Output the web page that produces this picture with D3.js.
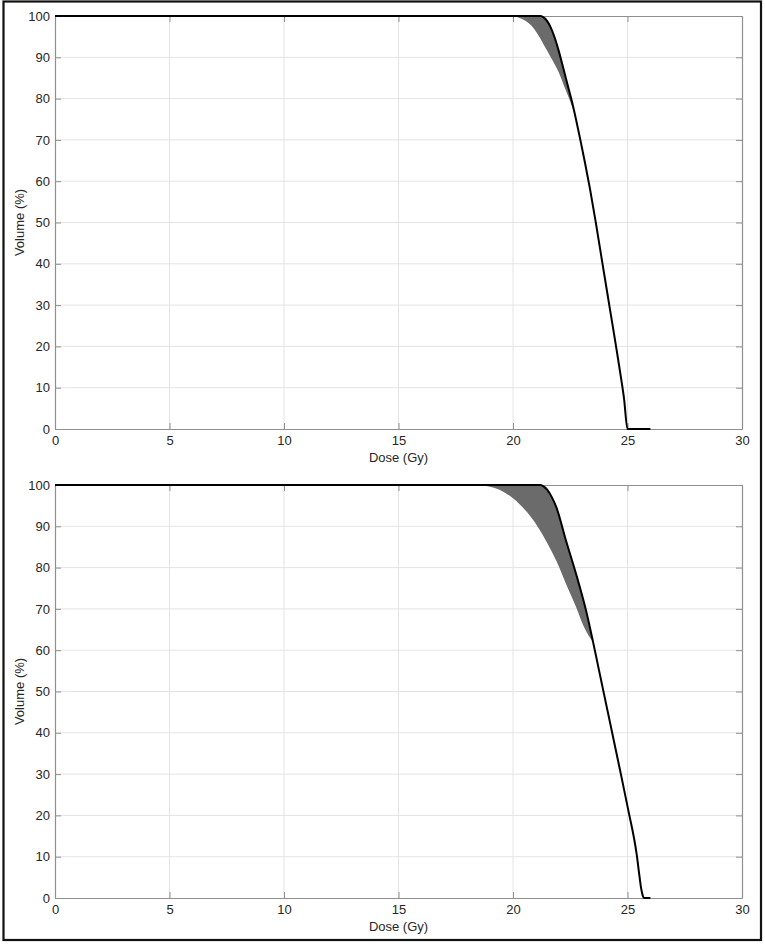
<!DOCTYPE html>
<html>
<head>
<meta charset="utf-8">
<script src="https://cdn.jsdelivr.net/npm/d3@7"></script>
<style>
  body { margin: 0; background: #fff; }
  svg { display: block; font-family: "Liberation Sans", Arial, Helvetica, sans-serif; }
</style>
</head>
<body>
<svg id="canvas" width="765" height="944"></svg>
<script>
// ticks
let doseTicks = [0, 5, 10, 15, 20, 25, 30]
let volTicks = [0, 10, 20, 30, 40, 50, 60, 70, 80, 90, 100]

// panneau du haut : courbe noire + bord inférieur de la bande grise
let topDose = [0, 21.2, 21.35, 21.5, 21.65, 21.8, 22.0, 22.2, 22.4, 22.56, 22.75, 22.93, 23.15, 23.36, 23.6, 23.9, 24.24, 24.5, 24.7, 24.85, 25.0, 26.0]
let topVol  = [100, 100, 99.6, 98.7, 97.2, 95.1, 91.5, 87.3, 83, 79.6, 75, 70.3, 64.3, 58.2, 50.5, 40.3, 28.8, 20, 13, 7.3, 0, 0]
let topLowDose = [19.9, 20.2, 20.5, 20.8, 21.1, 21.4, 21.6, 21.8, 22.0, 22.27, 22.5, 22.7]
let topLowVol  = [100, 99.7, 99, 97.7, 95.4, 92.5, 90.5, 88.5, 86.3, 82.5, 79.3, 76.2]

// panneau du bas
let botDose = [0, 21.2, 21.35, 21.5, 21.7, 21.9, 22.3, 22.8, 23.2, 23.45, 23.75, 24.0, 24.24, 24.65, 25.03, 25.4, 25.52, 25.6, 25.66, 25.72, 26.0]
let botVol  = [100, 100, 99.6, 98.8, 97, 94.5, 86.8, 77.6, 69.4, 63.2, 55.3, 48.7, 42.4, 31.6, 21.4, 10.6, 5.4, 2.2, 0.7, 0, 0]
let botLowDose = [18.4, 18.9, 19.43, 20.0, 20.6, 21.03, 21.47, 21.91, 22.34, 22.78, 23.07, 23.5]
let botLowVol  = [100, 99.7, 98.8, 96.8, 93.5, 90.3, 86.2, 81.4, 75.7, 70.1, 66, 61.9]

let canvas = d3.select('#canvas')

// cadre autour de la figure
canvas.append('rect')
      .attr('x', 3.5).attr('y', 1.5)
      .attr('width', 757.5).attr('height', 938.5)
      .attr('fill', 'none').attr('stroke', '#111').attr('stroke-width', 2.2)

let x = d3.scaleLinear().domain([0, 30]).range([55, 742])

let dessinerPanneau = (id, top, dose, vol, lowDose, lowVol) => {
   let y = d3.scaleLinear().domain([0, 100]).range([top + 413, top])
   let g = canvas.append('g')

   // grille
   g.append('g').selectAll('line').data(doseTicks.slice(1, -1)).enter().append('line')
    .attr('x1', d => x(d)).attr('x2', d => x(d))
    .attr('y1', y(0)).attr('y2', y(100))
    .attr('stroke', '#e4e4e4').attr('stroke-width', 1)
   g.append('g').selectAll('line').data(volTicks.slice(1, -1)).enter().append('line')
    .attr('x1', x(0)).attr('x2', x(30))
    .attr('y1', d => y(d)).attr('y2', d => y(d))
    .attr('stroke', '#e4e4e4').attr('stroke-width', 1)

   // axes (ticks vers l'intérieur)
   let axeBas = d3.axisBottom(x).tickValues(doseTicks).tickSizeInner(-6).tickSizeOuter(0).tickPadding(7)
   let axeHaut = d3.axisTop(x).tickValues(doseTicks).tickSizeInner(-6).tickSizeOuter(0).tickFormat('')
   let axeGauche = d3.axisLeft(y).tickValues(volTicks).tickSizeInner(-6).tickSizeOuter(0).tickPadding(5)
   let axeDroite = d3.axisRight(y).tickValues(volTicks).tickSizeInner(-6).tickSizeOuter(0).tickFormat('')

   let styler = sel => {
      sel.select('.domain').attr('stroke', '#8f8f8f').attr('stroke-width', 1.2)
      sel.selectAll('.tick line').attr('stroke', '#8f8f8f')
      sel.selectAll('.tick text').attr('fill', '#262626').style('font-size', '13px')
      sel.attr('font-family', null)
   }
   g.append('g').attr('transform', `translate(0,${y(0)})`).call(axeBas).call(styler)
   g.append('g').attr('transform', `translate(0,${y(100)})`).call(axeHaut).call(styler)
   g.append('g').attr('transform', `translate(${x(0)},0)`).call(axeGauche).call(styler)
   g.append('g').attr('transform', `translate(${x(30)},0)`).call(axeDroite).call(styler)

   // titres d'axes
   g.append('text').attr('x', (x(0) + x(30)) / 2).attr('y', y(0) + 33)
    .attr('text-anchor', 'middle').attr('fill', '#262626').style('font-size', '13px')
    .text('Dose (Gy)')
   g.append('text')
    .attr('transform', `translate(24,${(y(0) + y(100)) / 2}) rotate(-90)`)
    .attr('text-anchor', 'middle').attr('fill', '#262626').style('font-size', '13px')
    .text('Volume (%)')

   // bande grise = sous la courbe noire ET au-dessus du bord inférieur (clip)
   let bas = lowDose.map((d, i) => [d, lowVol[i]])
   let courbe = dose.map((d, i) => [d, vol[i]])

   canvas.append('clipPath').attr('id', 'clip-' + id)
         .append('path')
         .attr('d', d3.area().x(d => x(d[0])).y0(d => y(d[1])).y1(y(100) - 2).curve(d3.curveMonotoneX)(bas))

   g.append('path')
    .attr('d', d3.area().x(d => x(d[0])).y0(y(0)).y1(d => y(d[1])).curve(d3.curveMonotoneX)(courbe))
    .attr('clip-path', `url(#clip-${id})`)
    .attr('fill', '#6b6b6b').attr('stroke', 'none')

   g.append('path')
    .datum(courbe)
    .attr('d', d3.line().x(d => x(d[0])).y(d => y(d[1])).curve(d3.curveMonotoneX))
    .attr('fill', 'none').attr('stroke', '#000').attr('stroke-width', 2)
}

dessinerPanneau('haut', 16, topDose, topVol, topLowDose, topLowVol)
dessinerPanneau('bas', 485, botDose, botVol, botLowDose, botLowVol)
</script>
</body>
</html>
